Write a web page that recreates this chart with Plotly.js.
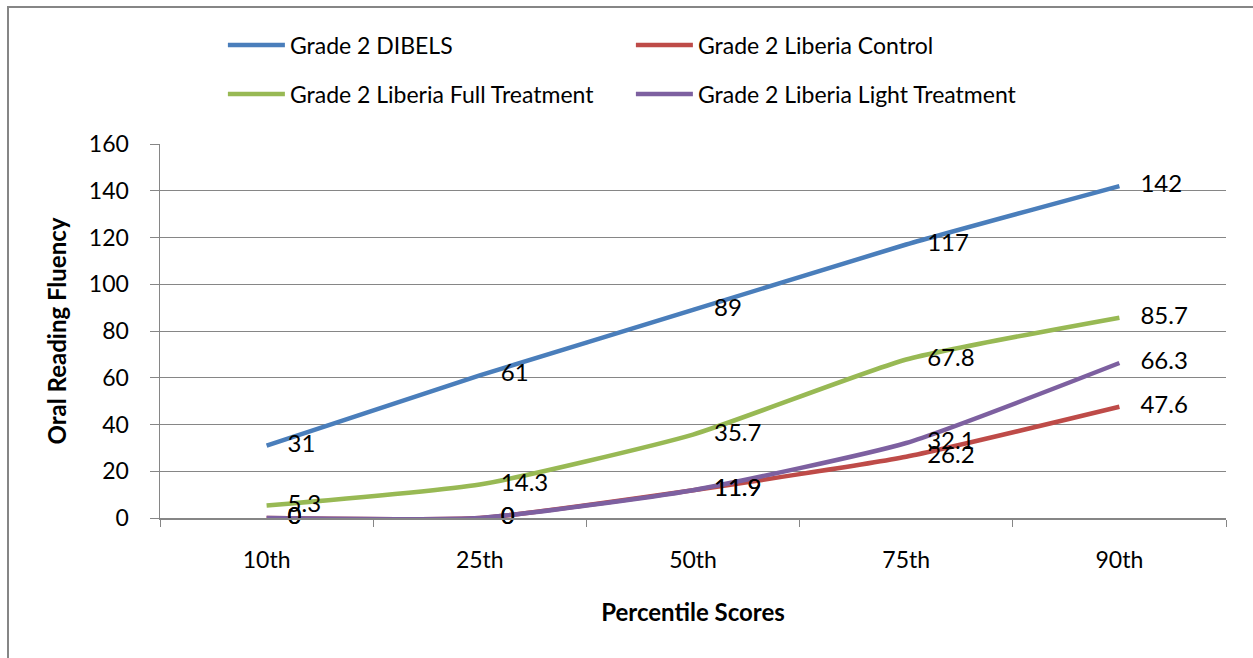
<!DOCTYPE html>
<html><head><meta charset="utf-8">
<script src="https://cdn.plot.ly/plotly-3.0.1.min.js"></script>
<style>html,body{margin:0;padding:0;background:#fff;} #chart{width:1253px;height:658px;}</style>
</head><body><div id="chart"></div>
<script>
const categories = ['10th', '25th', '50th', '75th', '90th'];
const dibels = [31, 61, 89, 117, 142];
const liberiaControl = [0, 0, 11.9, 26.2, 47.6];
const liberiaFull = [5.3, 14.3, 35.7, 67.8, 85.7];
const liberiaLight = [0, 0, 11.9, 32.1, 66.3];
const seriesNames = ['Grade 2 DIBELS', 'Grade 2 Liberia Control', 'Grade 2 Liberia Full Treatment', 'Grade 2 Liberia Light Treatment'];
const yTickValues = [0, 20, 40, 60, 80, 100, 120, 140, 160];

const FONT = 'Lato, "Open Sans", sans-serif';
const GRID = '#868686';
const series = [
  {name: seriesNames[0], y: dibels, color: '#4A7EBB', legend: 'legend'},
  {name: seriesNames[1], y: liberiaControl, color: '#BE4B48', legend: 'legend'},
  {name: seriesNames[2], y: liberiaFull, color: '#98B954', legend: 'legend2'},
  {name: seriesNames[3], y: liberiaLight, color: '#7D60A0', legend: 'legend2'}
];

const traces = [];
series.forEach(s => {
  traces.push({
    type: 'scatter', mode: 'lines', x: categories, y: s.y, name: s.name,
    legend: s.legend, line: {color: s.color, width: 4.5, shape: 'spline', smoothing: 0.5},
    hoverinfo: 'skip'
  });
});
series.forEach(s => {
  traces.push({
    type: 'scatter', mode: 'markers+text', x: categories, y: s.y, showlegend: false,
    text: s.y.map(v => String(v)), textposition: 'middle right', cliponaxis: false,
    textfont: {family: FONT, size: 24, color: '#000'},
    marker: {size: 32, opacity: 0, color: s.color}, hoverinfo: 'skip'
  });
});

const legendBase = {
  orientation: 'h', xanchor: 'left', yanchor: 'middle', x: 0.059,
  entrywidth: 336, entrywidthmode: 'pixels', bgcolor: 'rgba(0,0,0,0)', itemwidth: 57,
  font: {family: FONT, size: 23, color: '#000'}, traceorder: 'normal'
};

const layout = {
  width: 1253, height: 658,
  margin: {l: 160, r: 27, t: 144, b: 140},
  paper_bgcolor: '#fff', plot_bgcolor: '#fff',
  font: {family: FONT, color: '#000'},
  showlegend: true,
  legend: Object.assign({}, legendBase, {y: (518 - 45) / 374}),
  legend2: Object.assign({}, legendBase, {y: (518 - 94) / 374}),
  xaxis: {
    type: 'category', range: [-0.5, 4.5], tickson: 'boundaries',
    ticks: 'outside', ticklen: 7, tickcolor: GRID, tickwidth: 1,
    showline: true, linecolor: GRID, linewidth: 1.5, showgrid: false,
    tickfont: {family: FONT, size: 23, color: '#000'}, ticklabelstandoff: 21,
    title: {text: 'Percentile Scores', font: {family: FONT, size: 24, weight: 'bold', color: '#000'}, standoff: 32}
  },
  yaxis: {
    range: [0, 160], tickvals: yTickValues, ticktext: yTickValues.map(String),
    ticks: 'outside', ticklen: 9, tickcolor: GRID, tickwidth: 1,
    showline: true, linecolor: GRID, linewidth: 1.5,
    showgrid: true, gridcolor: GRID, gridwidth: 1, zeroline: false,
    tickfont: {family: FONT, size: 23, color: '#000'}, ticklabelstandoff: 16,
    title: {text: 'Oral Reading Fluency', font: {family: FONT, size: 24, weight: 'bold', color: '#000'}, standoff: 15}
  },
  shapes: [
    {type: 'line', xref: 'paper', yref: 'paper', x0: (8 - 160) / 1066, x1: (8 - 160) / 1066, y0: (518 - 8) / 374, y1: (518 - 700) / 374, line: {color: GRID, width: 2}},
    {type: 'line', xref: 'paper', yref: 'paper', x0: (7 - 160) / 1066, x1: (1270 - 160) / 1066, y0: (518 - 7) / 374, y1: (518 - 7) / 374, line: {color: GRID, width: 2}}
  ]
};

Plotly.newPlot('chart', traces, layout, {displayModeBar: false, staticPlot: true});
</script>
</body></html>
